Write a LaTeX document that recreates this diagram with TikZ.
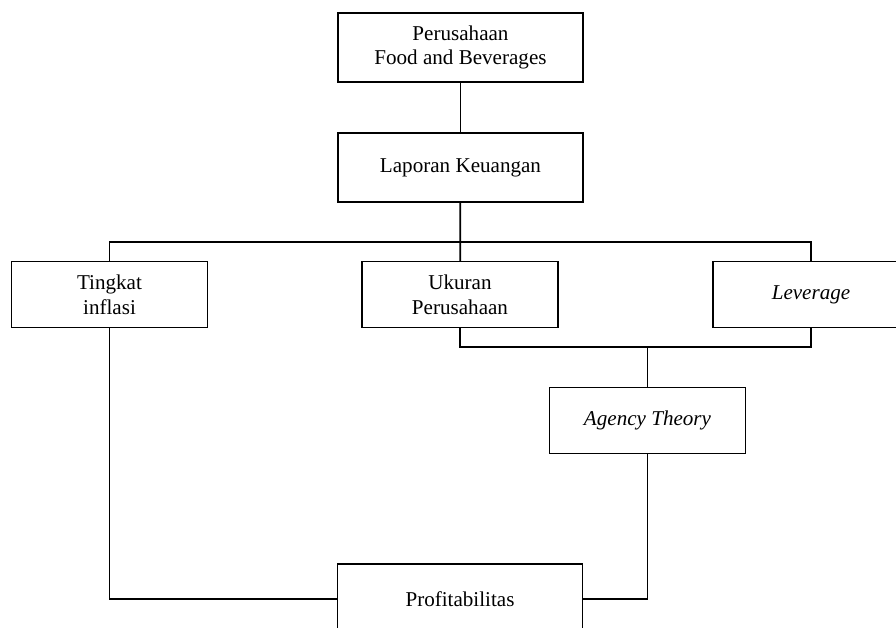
\documentclass[tikz,border=0pt]{standalone}
\usepackage{fontspec}
\setmainfont{Liberation Serif}
\usetikzlibrary{calc,positioning}

\begin{document}
\begin{tikzpicture}[
       box/.style={draw,line width=0.7pt,minimum width=4.9cm,minimum height=1.38cm,align=center,font=\fontsize{12}{14}\selectfont},
       smallbox/.style={box,minimum width=3.92cm,minimum height=1.32cm},
       link/.style={line width=1pt}]

       \useasboundingbox (0,0) rectangle (17.92,12.56);

       \node[box] (perusahaan) at (9.21,11.61) {Perusahaan\\Food and Beverages};
       \node[box] (laporan)    at (9.21, 9.21) {Laporan Keuangan};

       \node[smallbox] (inflasi)  at ( 2.19, 6.67) {Tingkat\\inflasi};
       \node[smallbox] (ukuran)   at ( 9.20, 6.67) {Ukuran\\Perusahaan};
       \node[smallbox] (leverage) at (16.22, 6.67) {\textit{Leverage}};

       \node[smallbox] (agency) at (12.95, 4.15) {\textit{Agency Theory}};
       \node[box,minimum height=1.4cm] (profit) at (9.20, 0.58) {Profitabilitas};

       
       \coordinate (split) at (9.20, 7.72);
       \coordinate (join)  at (12.95, 5.62);

       \draw[link] (perusahaan) -- (laporan);
       \draw[link] (laporan) -- (ukuran);
       \draw[link] (inflasi.north) |- (split) -| (leverage.north);

       \draw[link] (ukuran.south) |- (join) -| (leverage.south);
       \draw[link] (join) -- (agency.north);

       \draw[link] (inflasi.south) |- (profit.west);
       \draw[link] (agency.south) |- (profit.east);
\end{tikzpicture}
\end{document}
